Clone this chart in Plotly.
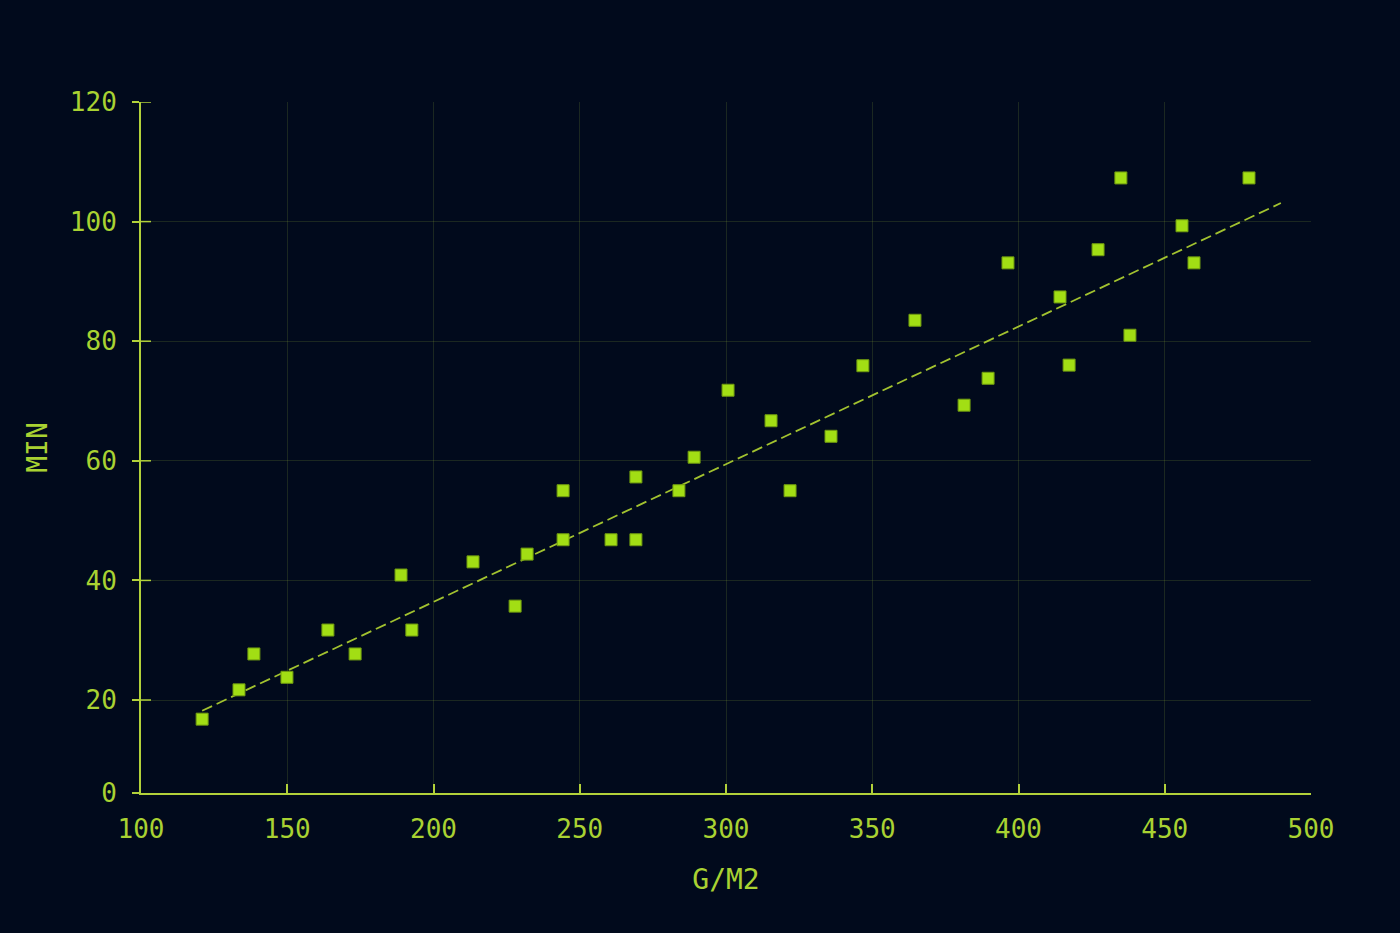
import plotly.graph_objects as go

# Data
gsm = [120.9, 133.5, 138.6, 149.9, 163.9, 173.2, 188.9, 192.6, 213.5, 227.9,
       232.0, 244.3, 244.3, 260.7, 269.2, 269.2, 283.9, 289.1, 300.7, 315.4,
       321.9, 335.9, 346.8, 364.6, 381.4, 389.6, 396.4, 414.2, 417.3, 427.2,
       435.0, 438.1, 455.9, 460.0, 478.8]
minutes = [16.8, 21.7, 27.7, 23.8, 31.7, 27.7, 40.9, 31.7, 43.1, 35.7,
           44.4, 55.0, 46.8, 46.8, 57.3, 46.8, 55.0, 60.6, 71.8, 66.7,
           55.0, 64.1, 75.9, 83.5, 69.3, 73.8, 93.1, 87.4, 76.0, 95.3,
           107.3, 81.0, 99.3, 93.1, 107.3]
trend_x = [120.9, 489.7]
trend_y = [18.2, 103.1]
x_ticks = [100, 150, 200, 250, 300, 350, 400, 450, 500]
x_range = [100, 500]
y_range = [4.45, 120]
y_tickvals = [4.45, 20, 40, 60, 80, 100, 120]
y_ticktext = ["0", "20", "40", "60", "80", "100", "120"]

BG = "#010a1c"
LIME = "#a2de14"
AXIS = "#b2d13a"
TEXT = "#a9d232"
GRID = "rgba(170,200,60,0.16)"
FONT = "DejaVu Sans Mono"

fig = go.Figure()
fig.add_trace(go.Scatter(
    x=trend_x, y=trend_y, mode="lines",
    line=dict(color="rgba(180,214,50,0.9)", width=1.8, dash="11px,5px"),
    hoverinfo="skip", showlegend=False))
fig.add_trace(go.Scatter(
    x=gsm, y=minutes, mode="markers",
    marker=dict(symbol="square", size=12, color=LIME,
                line=dict(color="#6f9a10", width=1)),
    showlegend=False))

# inner half of the y ticks (ticks cross the axis in the reference)
for v in y_tickvals[1:]:
    fig.add_shape(type="line", xref="x", yref="y",
                  xsizemode="pixel", xanchor=x_range[0], x0=0, x1=10,
                  y0=v, y1=v, line=dict(color=AXIS, width=1.5), layer="above")

fig.update_layout(
    width=1400, height=933,
    paper_bgcolor=BG, plot_bgcolor=BG,
    margin=dict(l=141, r=89, t=102, b=140),
    font=dict(family=FONT, color=TEXT, size=26),
    xaxis=dict(
        range=x_range, tickvals=x_ticks,
        showgrid=True, gridcolor=GRID, gridwidth=1,
        showline=True, linecolor=AXIS, linewidth=2,
        ticks="inside", ticklen=9, tickcolor=AXIS, tickwidth=1.5,
        ticklabelstandoff=12,
        tickfont=dict(family=FONT, size=26, color=TEXT),
        title=dict(text="G/M2", font=dict(family=FONT, size=28, color=TEXT),
                   standoff=26),
        zeroline=False, mirror=False,
    ),
    yaxis=dict(
        range=y_range, tickvals=y_tickvals, ticktext=y_ticktext,
        showgrid=True, gridcolor=GRID, gridwidth=1,
        showline=True, linecolor=AXIS, linewidth=2,
        ticks="outside", ticklen=7, tickcolor=AXIS, tickwidth=1.5,
        ticklabelstandoff=10,
        tickfont=dict(family=FONT, size=26, color=TEXT),
        title=dict(text="MIN", font=dict(family=FONT, size=28, color=TEXT),
                   standoff=14),
        zeroline=False,
    ),
)

fig.write_html("out.html", config={"displayModeBar": False})
with open("out.html", "r", encoding="utf-8") as f:
    html = f.read()
html = html.replace("<head>", "<head><style>html,body{margin:0;padding:0;background:#010a1c;overflow:hidden}</style>", 1)
with open("out.html", "w", encoding="utf-8") as f:
    f.write(html)
